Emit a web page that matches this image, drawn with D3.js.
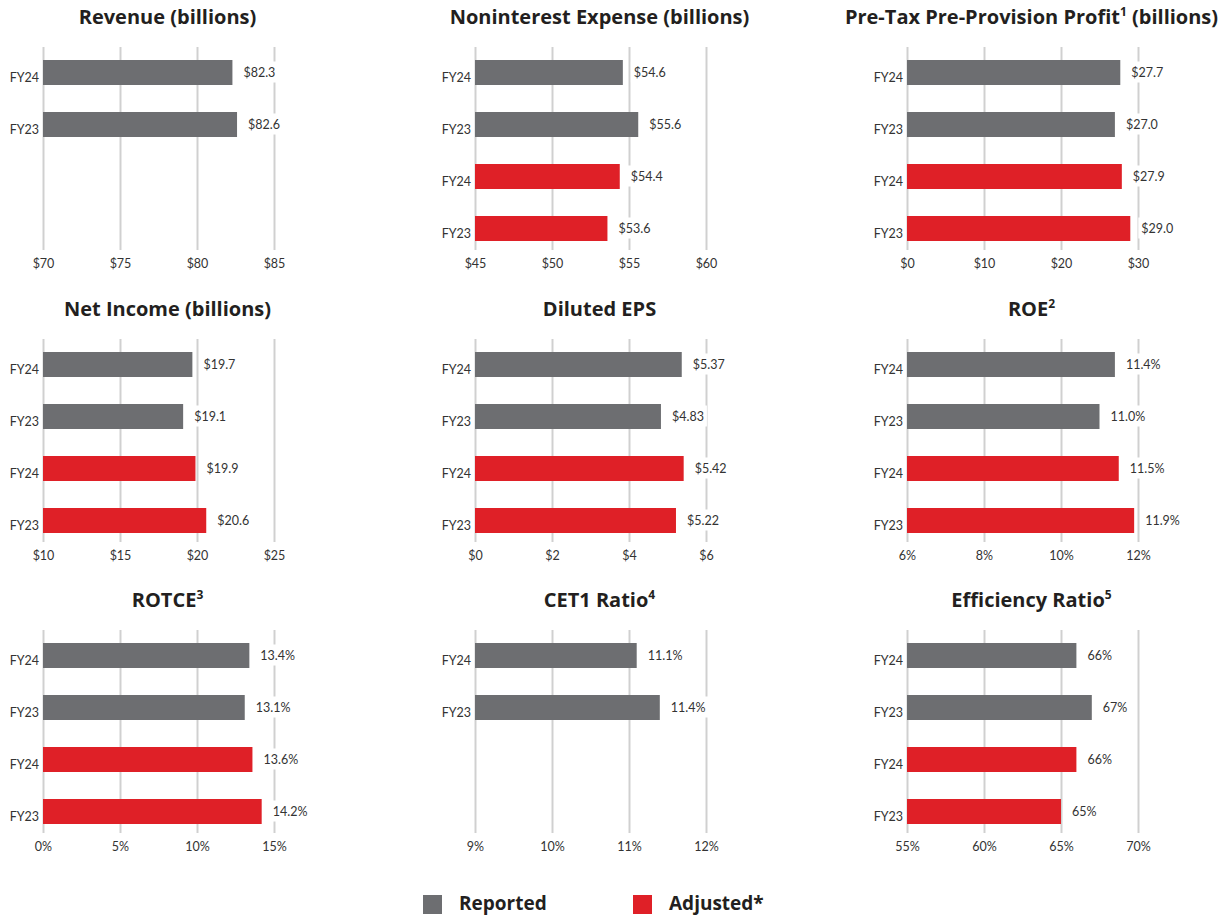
<!DOCTYPE html>
<html>
<head>
<meta charset="utf-8">
<script src="https://cdn.jsdelivr.net/npm/d3@7"></script>
<style>
  html, body { margin: 0; padding: 0; background: #fff; }
  svg { display: block; }
  text { font-family: Lato, "Open Sans", sans-serif; }
  text.title, text.legtext { font-family: "Open Sans", Lato, sans-serif; }
</style>
</head>
<body>
<svg id="chart" width="1226" height="916"></svg>
<script>
// ---------- data ----------
const titleMain   = ["Revenue (billions)", "Noninterest Expense (billions)", "Pre-Tax Pre-Provision Profit",
                     "Net Income (billions)", "Diluted EPS", "ROE",
                     "ROTCE", "CET1 Ratio", "Efficiency Ratio"];
const titleNote   = ["", "", "1", "", "", "2", "3", "4", "5"];
const titleSuffix = ["", "", " (billions)", "", "", "", "", "", ""];

const categories = ["FY24", "FY23"];
const reportedValues = [[82.3, 82.6], [54.6, 55.6], [27.7, 27.0],
                        [19.7, 19.1], [5.37, 4.83], [11.4, 11.0],
                        [13.4, 13.1], [11.1, 11.4], [66, 67]];
const adjustedValues = [[], [54.4, 53.6], [27.9, 29.0],
                        [19.9, 20.6], [5.42, 5.22], [11.5, 11.9],
                        [13.6, 14.2], [], [66, 65]];
const valueDecimals = [1, 1, 1, 1, 2, 1, 1, 1, 0];
const valuePrefix = ["$", "$", "$", "$", "$", "", "", "", ""];
const valueSuffix = ["", "", "", "", "", "%", "%", "%", "%"];

const tickValues = [[70, 75, 80, 85], [45, 50, 55, 60], [0, 10, 20, 30],
                    [10, 15, 20, 25], [0, 2, 4, 6], [6, 8, 10, 12],
                    [0, 5, 10, 15], [9, 10, 11, 12], [55, 60, 65, 70]];
const tickLabels = [["$70", "$75", "$80", "$85"], ["$45", "$50", "$55", "$60"], ["$0", "$10", "$20", "$30"],
                    ["$10", "$15", "$20", "$25"], ["$0", "$2", "$4", "$6"], ["6%", "8%", "10%", "12%"],
                    ["0%", "5%", "10%", "15%"], ["9%", "10%", "11%", "12%"], ["55%", "60%", "65%", "70%"]];

const seriesNames = ["Reported", "Adjusted*"];

// ---------- styles / layout ----------
const colors = { Reported: "#6d6e71", "Adjusted*": "#df2027" };
const gridColor = "#d0d0d0";
const textColor = "#333333";
const titleColor = "#231f20";

const colX = [43, 475, 907];
const rowY = [60, 352, 643];
const axisW = 231;

const svg = d3.select("#chart");

titleMain.forEach((t, i) => {
  const col = i % 3, row = Math.floor(i / 3);
  const x0 = colX[col], y0 = rowY[row];
  const g = svg.append("g").attr("transform", `translate(${x0},${y0})`);

  const x = d3.scaleLinear()
    .domain([tickValues[i][0], tickValues[i][tickValues[i].length - 1]])
    .range([0, axisW]);

  const rows = [];
  reportedValues[i].forEach((v, k) => rows.push({ series: "Reported", cat: categories[k], v, key: "R" + k }));
  adjustedValues[i].forEach((v, k) => rows.push({ series: "Adjusted*", cat: categories[k], v, key: "A" + k }));
  const slotKeys = ["R0", "R1", "A0", "A1"];

  const y = d3.scaleBand().domain(slotKeys).range([0, 181]).paddingInner(27 / 52).paddingOuter(0);

  // gridlines via axis
  const gridTop = -13, gridBottom = 190;
  const gridAxis = d3.axisBottom(x).tickValues(tickValues[i])
    .tickSize(-(gridBottom - gridTop)).tickFormat((d, j) => tickLabels[i][j]).tickPadding(10);
  const ga = g.append("g").attr("transform", `translate(0,${gridBottom})`).call(gridAxis);
  ga.select(".domain").remove();
  ga.selectAll(".tick line").attr("stroke", gridColor).attr("stroke-width", 2);
  ga.selectAll(".tick text").attr("fill", textColor).attr("font-size", 12.5).attr("dy", "0.6em");

  // bars
  g.selectAll("rect.bar").data(rows).enter().append("rect")
    .attr("class", "bar")
    .attr("x", x(tickValues[i][0]))
    .attr("y", d => y(d.key))
    .attr("width", d => x(d.v) - x(tickValues[i][0]))
    .attr("height", y.bandwidth())
    .attr("fill", d => colors[d.series]);

  // y labels
  g.selectAll("text.ylab").data(rows).enter().append("text")
    .attr("class", "ylab")
    .attr("x", -4)
    .attr("y", d => y(d.key) + y.bandwidth() / 2 + 9)
    .attr("text-anchor", "end")
    .attr("font-size", 12.5)
    .attr("fill", textColor)
    .text(d => d.cat);

  // value labels with white background
  const lab = g.selectAll("g.vlab").data(rows).enter().append("g").attr("class", "vlab")
    .attr("transform", d => `translate(${x(d.v) + 11},${y(d.key) + y.bandwidth() / 2 + 4})`);
  lab.append("text")
    .attr("font-size", 12.5)
    .attr("fill", textColor)
    .text(d => valuePrefix[i] + d3.format("." + valueDecimals[i] + "f")(d.v) + valueSuffix[i]);
  lab.each(function () {
    const gg = d3.select(this);
    const bb = gg.select("text").node().getBBox();
    gg.insert("rect", "text").attr("x", bb.x - 3).attr("y", bb.y - 3)
      .attr("width", bb.width + 6).attr("height", bb.height + 6).attr("fill", "#fff");
  });

  // title
  const tt = g.append("text")
    .attr("class", "title")
    .attr("x", axisW / 2 + 9)
    .attr("y", -36)
    .attr("text-anchor", "middle")
    .attr("font-size", 20)
    .attr("font-weight", 700)
    .attr("fill", titleColor);
  tt.append("tspan").text(t);
  if (titleNote[i]) tt.append("tspan").attr("font-size", 12).attr("dy", -8).text(titleNote[i]);
  if (titleSuffix[i]) tt.append("tspan").attr("dy", 8).text(titleSuffix[i]);
});

// legend
const legX = [423, 633];
const leg = svg.selectAll("g.leg").data(seriesNames).enter().append("g")
  .attr("class", "leg")
  .attr("transform", (d, k) => `translate(${legX[k]},895)`);
leg.append("rect").attr("width", 19).attr("height", 19).attr("fill", d => colors[d]);
leg.append("text").attr("class", "legtext").attr("x", 36).attr("y", 15)
  .attr("font-size", 19).attr("font-weight", 700).attr("fill", titleColor)
  .text(d => d);
</script>
</body>
</html>
